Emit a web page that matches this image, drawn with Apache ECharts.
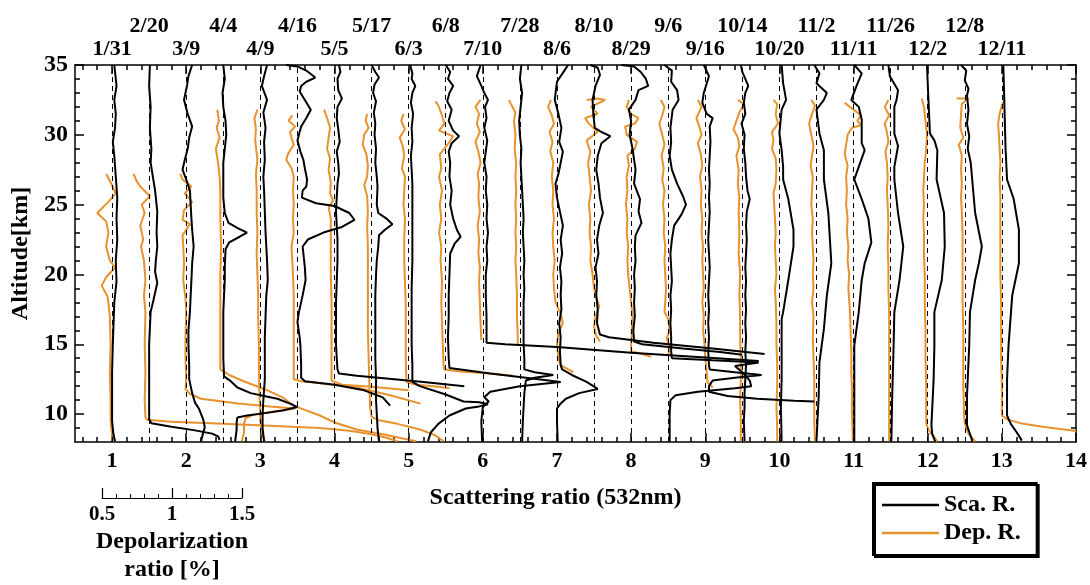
<!DOCTYPE html>
<html>
<head>
<meta charset="utf-8">
<script src="https://cdn.jsdelivr.net/npm/echarts@6/dist/echarts.min.js"></script>
<style>
  html, body { margin: 0; padding: 0; background: #fff; }
  #chart { width: 1090px; height: 585px; }
</style>
</head>
<body>
<div id="chart"></div>
<script>
// observation dates, one profile per date
const dates = ['1/31', '2/20', '3/9', '4/4', '4/9', '4/16', '5/5', '5/17', '6/3', '6/8', '7/10', '7/28', '8/6',
               '8/10', '8/29', '9/6', '9/16', '10/14', '10/20', '11/2', '11/11', '11/26', '12/2', '12/8', '12/11'];
// each profile is shifted by 0.5 on the scattering ratio axis
const baselines = [1, 1.5, 2, 2.5, 3, 3.5, 4, 4.5, 5, 5.5, 6, 6.5, 7, 7.5, 8, 8.5, 9, 9.5, 10, 10.5, 11, 11.5, 12, 12.5, 13];
const xTickLabels = [1, 2, 3, 4, 5, 6, 7, 8, 9, 10, 11, 12, 13, 14];
const yTickLabels = [10, 15, 20, 25, 30, 35];
const depTickLabels = [0.5, 1, 1.5];

// scattering ratio profiles: [ratio, altitude km]
const sca_0131 = [[1.03,35],[1.05,34],[1.06,33.5],[1.03,32.5],[1.05,31.5],[1.04,30.5],[1.01,29.5],[1.03,28.5],[1.05,27],[1.07,25.5],[1.06,24],[1.07,22.5],[1.05,21],[1.06,19.5],[1.03,18],[1.02,16.5],[1.01,15],[1.0,13],[1.0,11],[1.0,9.5],[1.02,8.5],[1.04,8.05]];
const sca_0220 = [[1.01,35],[1.0,33.5],[1.02,32],[1.01,30.5],[1.03,29],[1.02,28],[1.05,27],[1.08,26],[1.11,24.5],[1.1,23],[1.11,22],[1.09,21],[1.08,20.2],[1.11,19.4],[1.06,18.2],[1.02,17.3],[1.0,15],[1.0,13],[1.0,11],[1.0,9.6],[1.03,9.35],[1.3,9.1],[1.6,8.85],[1.85,8.6],[1.93,8.4],[1.95,8.15]];
const sca_0309 = [[1.08,35],[1.03,34.2],[1.01,33.5],[0.97,32.5],[1.02,31.5],[1.08,30.6],[1.04,29.8],[1.02,29],[0.98,28.2],[0.95,27.5],[1.0,26.8],[1.05,26],[1.06,25],[1.07,24],[1.08,23.2],[1.1,22],[1.08,20.8],[1.07,19.6],[1.06,18.5],[1.05,17.3],[1.03,16],[1.03,14.9],[1.04,13.5],[1.04,12.5],[1.08,11.5],[1.12,10.8],[1.17,10.4],[1.23,9.6],[1.25,9.05],[1.23,8.7],[1.2,8.05]];
const sca_0404 = [[1.0,35],[1.02,34],[0.99,33],[1.0,32],[1.03,31],[1.04,30],[1.02,29],[1.0,28],[1.0,27],[1.0,25.5],[1.02,24.4],[1.07,23.7],[1.2,23.3],[1.32,23.0],[1.22,22.7],[1.08,22.3],[1.03,21.8],[1.02,20.5],[1.02,19.6],[1.01,18.5],[1.0,17.3],[1.0,15.5],[1.0,14],[1.01,12.7],[1.09,12.4],[1.19,11.9],[1.37,11.5],[1.55,11.3],[1.73,11.1],[1.9,10.75],[2.0,10.5],[1.8,10.25],[1.54,10.05],[1.32,9.9],[1.19,9.76],[1.18,9.4],[1.18,8.9],[1.16,8.05]];
const sca_0409 = [[1.09,35],[1.05,34.2],[1.02,33.5],[1.09,32.5],[1.04,31.6],[1.07,30.5],[1.05,29.5],[1.06,28.2],[1.04,27],[1.05,26],[1.06,24.5],[1.07,23],[1.08,22],[1.09,21],[1.1,19.6],[1.08,18.5],[1.07,17],[1.06,15.5],[1.06,14],[1.06,12.5],[1.04,11],[1.03,10],[1.03,9],[1.05,8.05]];
const sca_0416 = [[0.85,35],[1.0,34.9],[1.12,34.6],[1.24,34.1],[1.12,33.8],[1.05,33.5],[1.03,33.1],[1.1,32.5],[1.18,31.8],[1.12,31.2],[1.05,30.6],[1.02,30],[1.0,29.6],[1.04,28.8],[1.08,28.2],[1.1,27.6],[1.13,26.8],[1.12,26.3],[1.07,26],[1.06,25.5],[1.25,25.1],[1.5,24.9],[1.7,24.4],[1.77,23.9],[1.6,23.4],[1.35,23.0],[1.14,22.5],[1.07,22.0],[1.08,21.5],[1.1,20.5],[1.11,19.6],[1.07,18.5],[1.02,17.3],[1.0,16.6],[1.03,15.5],[1.04,14.9],[1.05,13.5],[1.05,12.6],[1.1,12.35],[1.5,12.1],[1.9,11.7],[2.15,11.2],[2.25,10.6]];
const sca_0505 = [[1.06,35],[1.08,34.5],[1.04,34],[1.05,33.2],[1.1,32.6],[1.04,32],[1.03,31.2],[1.05,30.4],[1.07,29.5],[1.03,28.8],[1.05,28],[1.06,27.2],[1.04,26.5],[1.03,25.5],[1.02,24.5],[1.03,23.5],[1.04,22.5],[1.04,21],[1.03,19.5],[1.02,18],[1.02,16.5],[1.02,15],[1.03,14],[1.04,13.2],[1.06,12.9],[1.3,12.75],[1.7,12.55],[2.2,12.3],[2.75,12.0]];
const sca_0517 = [[1.0,35],[1.05,34.5],[1.1,34.1],[1.04,33.6],[1.02,33],[1.06,32.4],[1.03,31.6],[1.05,30.8],[1.04,30],[1.06,29],[1.05,28],[1.07,27],[1.08,26.3],[1.07,25],[1.09,24.4],[1.2,24.0],[1.28,23.6],[1.18,23.2],[1.1,22.8],[1.09,22],[1.07,21],[1.06,20],[1.05,18.5],[1.05,17],[1.05,15.5],[1.05,14],[1.06,12.5],[1.06,11],[1.07,10],[1.08,9],[1.1,8.05]];
const sca_0603 = [[1.02,35],[1.05,34.4],[1.04,34],[1.09,33.5],[1.05,33],[1.03,32.3],[1.06,31.5],[1.04,30.5],[1.05,29.5],[1.03,28.5],[1.04,27.5],[1.05,26.5],[1.05,25],[1.05,23],[1.05,21],[1.04,19],[1.04,17],[1.04,15],[1.05,13.5],[1.05,12.3],[1.15,12.0],[1.5,11.4],[1.74,10.9],[1.95,10.85],[2.07,10.7],[1.95,10.55],[1.77,10.4],[1.55,9.9],[1.4,9.3],[1.3,8.7],[1.26,8.05]];
const sca_0608 = [[1.0,35],[1.06,34.5],[1.03,34],[1.1,33.5],[1.05,33],[1.02,32.4],[1.08,31.8],[1.04,31],[1.1,30.3],[1.18,29.9],[1.08,29.4],[1.04,28.8],[1.06,28],[1.05,27],[1.08,26],[1.06,25],[1.1,24],[1.15,23.2],[1.2,22.7],[1.12,22.2],[1.06,21.5],[1.05,20],[1.04,18.5],[1.04,17],[1.03,15.5],[1.04,14],[1.05,13.3],[1.6,12.9],[2.25,12.5],[2.55,12.3],[2.0,12.0],[1.6,11.6],[1.52,11.2],[1.58,10.9],[1.5,10.5],[1.48,9.5],[1.49,8.05]];
const sca_0710 = [[0.97,35],[0.92,34.2],[0.98,33.5],[1.02,33],[1.07,32.5],[1.03,32],[1.05,31.2],[1.02,30.5],[1.06,29.6],[1.04,28.8],[1.02,28],[1.05,27],[1.04,26],[1.06,25],[1.05,24],[1.07,23],[1.05,22],[1.06,21],[1.04,20],[1.04,18.5],[1.05,17],[1.05,16],[1.05,15.1],[1.3,15.0],[2.0,14.8],[3.0,14.4],[4.0,14.05],[4.72,13.8]];
const sca_0728 = [[1.02,35],[1.0,34],[1.03,33],[1.01,32],[0.99,31],[1.0,30],[1.02,29],[1.01,28],[1.02,27],[1.03,26],[1.04,25],[1.05,24],[1.04,23],[1.05,22],[1.06,21],[1.05,20],[1.06,19],[1.05,18],[1.05,17],[1.05,16],[1.05,15],[1.06,14],[1.06,13.2],[1.2,13.0],[1.45,12.8],[1.2,12.6],[1.08,12.4],[1.06,11.5],[1.05,10.5],[1.04,9.5],[1.03,8.05]];
const sca_0806 = [[1.15,35],[1.1,34.6],[1.0,33.8],[0.97,32.5],[1.02,31.5],[1.06,30.5],[1.03,29.5],[1.08,28.8],[1.05,28],[1.02,27.2],[0.98,26.5],[1.0,25.5],[1.04,24.5],[1.08,23.5],[1.05,22.5],[1.07,21.5],[1.04,20.5],[1.06,19.5],[1.05,18.5],[1.06,17.5],[1.03,16.5],[1.05,15.5],[1.04,14.5],[1.05,13.5],[1.07,13.2],[1.2,12.8],[1.4,12.3],[1.55,11.8],[1.3,11.5],[1.12,11.1],[1.04,10.7],[1.0,10.4],[1.0,9.5],[1.01,8.05]];
const sca_0810 = [[0.95,35],[1.05,34.8],[1.08,34.3],[1.02,33.5],[0.98,32.5],[0.99,31.5],[1.01,30.5],[1.1,30.2],[1.22,29.9],[1.1,29.4],[1.05,28.5],[1.03,27.5],[1.06,26.5],[1.08,25.5],[1.12,24.4],[1.07,23.5],[1.04,22.5],[1.06,21.5],[1.02,20.5],[1.04,19.5],[1.03,18.5],[1.05,17.5],[1.04,16.5],[1.08,15.7],[1.2,15.5],[1.8,15.1],[2.6,14.7],[3.3,14.3]];
const sca_0829 = [[0.87,35],[1.04,34.9],[1.13,34.5],[1.2,34],[1.23,33.5],[1.1,33.2],[1.06,32.5],[0.97,31.8],[1.0,31],[0.98,30],[1.02,29],[1.04,28.2],[1.06,27.5],[1.04,26.5],[1.12,25.4],[1.1,24.5],[1.14,23.7],[1.06,22.8],[1.05,22],[1.06,21],[1.04,20],[1.05,19],[1.04,18],[1.05,17],[1.03,16],[1.04,15.2],[1.15,15.0],[1.7,14.7],[2.2,14.45],[2.5,14.25]];
const sca_0906 = [[0.95,35],[1.05,34.6],[1.04,33.8],[1.12,33.2],[1.14,32.5],[1.06,31.8],[1.03,30.5],[1.04,29.5],[1.02,28.5],[1.05,27.5],[1.12,26.5],[1.2,25.6],[1.24,25],[1.18,24.3],[1.08,23.5],[1.05,22.5],[1.03,21.5],[1.04,20.5],[1.05,19.5],[1.03,18.5],[1.04,17.5],[1.03,16.5],[1.04,15.5],[1.04,14.5],[1.05,14.0],[1.6,13.85],[2.22,13.7],[1.9,13.45],[2.0,13.0],[2.1,12.4],[2.12,12.0],[1.9,11.85],[1.4,11.6],[1.1,11.35],[1.03,11.0],[1.02,10],[1.02,9],[1.02,8.05]];
const sca_0916 = [[0.98,35],[1.05,34.2],[0.98,33],[0.96,32.3],[1.02,31.5],[1.1,31.2],[1.06,30.6],[1.07,29.5],[1.06,28.5],[1.05,27.5],[1.06,26.5],[1.05,25.5],[1.06,24.5],[1.05,23.5],[1.04,22.5],[1.05,21.5],[1.06,20.5],[1.05,19.5],[1.04,18.5],[1.05,17.5],[1.04,16.5],[1.05,15.5],[1.04,14.5],[1.05,13.5],[1.06,13.2],[1.4,13.0],[1.76,12.8],[1.4,12.6],[1.1,12.4],[1.05,12.0],[1.05,11.6],[1.3,11.3],[1.7,11.1],[2.2,10.95],[2.47,10.9]];
const sca_1014 = [[0.98,35],[1.0,34.5],[1.04,34],[1.08,33.5],[1.04,33],[1.02,32.3],[1.04,31.5],[0.99,30.8],[1.03,30],[1.02,29],[1.04,28],[1.05,27],[1.07,26],[1.1,25.4],[1.06,24.5],[1.05,23.5],[1.06,22.5],[1.05,21.5],[1.04,20.5],[1.05,19.5],[1.04,18.5],[1.05,17.5],[1.04,16.5],[1.05,15.5],[1.04,14.5],[1.05,13.5],[1.04,12.5],[1.03,11.5],[1.03,10.5],[1.02,9.5],[1.03,8.05]];
const sca_1020 = [[1.03,35],[1.05,33.7],[1.09,32.5],[1.03,31.8],[1.0,30.1],[1.03,28.9],[1.05,27.7],[1.05,26.8],[1.12,25.4],[1.19,23.2],[1.19,22],[1.12,19.6],[1.05,17.3],[1.03,16.8],[1.03,14.5],[1.03,12.5],[1.02,10.5],[1.03,8.05]];
const sca_1102 = [[0.97,35],[1.04,34.4],[1.0,33.7],[1.14,33],[1.1,32.5],[1.0,31.8],[1.04,30.1],[1.1,28.9],[1.1,26.8],[1.16,24.4],[1.2,20.8],[1.14,18.5],[1.1,16.1],[1.04,13.7],[1.03,11.3],[1.0,8.05]];
const sca_1111 = [[1.01,35],[1.11,34.4],[1.04,33.5],[0.97,32.5],[1.07,32],[1.11,31.1],[1.11,29.4],[1.15,28.9],[1.07,27.7],[1.01,26.8],[1.11,25.4],[1.2,24],[1.24,22.3],[1.15,20.8],[1.11,19.6],[1.07,17.3],[1.01,14.9],[1.01,11],[1.01,8.05]];
const sca_1126 = [[0.97,35],[0.99,34.2],[1.1,33.2],[1.08,32.5],[1.05,32],[1.05,30.1],[1.1,29.2],[1.05,27.7],[1.05,26.8],[1.1,24.4],[1.17,22],[1.12,19.6],[1.05,17.3],[1.04,14.9],[1.02,11],[1.01,8.05]];
const sca_1202 = [[0.99,35],[1.01,32.5],[1.03,30.1],[1.09,29.6],[1.13,28.9],[1.12,26.8],[1.22,24.4],[1.23,22],[1.19,19.6],[1.09,17.3],[1.09,14.9],[1.08,12.5],[1.05,9.2],[1.06,8.6],[1.1,8.05]];
const sca_1208 = [[0.95,35],[1.02,34.6],[1.0,33.9],[1.05,33.3],[1.03,32.8],[1.05,31.8],[1.03,30.8],[1.06,29.9],[1.04,29],[1.08,28],[1.1,26.8],[1.14,24.4],[1.23,22.0],[1.19,20.8],[1.14,19.6],[1.07,17.3],[1.06,14.9],[1.03,11.3],[1.03,9.2],[1.1,8.1]];
const sca_1211 = [[1.02,35],[1.03,33],[1.04,31],[1.05,29],[1.07,26.8],[1.16,25.4],[1.23,23.2],[1.23,20.8],[1.14,18.5],[1.09,14.9],[1.07,12.5],[1.07,9.9],[1.12,9.3],[1.2,8.7],[1.27,8.1]];

// depolarization ratio profiles, drawn as a shift from the baseline in scattering-ratio units: [shift, altitude km]
const dep_0131 = [[-0.08,27.2],[-0.02,26.6],[0.05,25.8],[-0.05,25.2],[-0.2,24.4],[-0.08,23.8],[-0.05,23],[-0.08,22],[-0.03,21],[0.04,20.5],[-0.08,19.8],[-0.14,19.2],[-0.06,18.4],[-0.03,17],[-0.02,15],[-0.03,13],[-0.02,11],[-0.02,9.5],[0.01,8.05]];
const dep_0220 = [[-0.21,27.2],[-0.17,26.7],[-0.12,26.3],[0.01,25.6],[-0.1,25],[-0.06,24.4],[-0.12,23.5],[-0.08,22.5],[-0.11,22],[-0.07,21],[-0.05,19.6],[-0.07,18.5],[-0.05,17.3],[-0.06,15],[-0.05,13],[-0.06,11],[-0.05,9.8],[-0.03,9.6],[0.3,9.45],[1.0,9.3],[1.7,9.15],[2.3,9.0],[2.7,8.8],[3.0,8.55],[3.2,8.3],[3.35,8.05]];
const dep_0309 = [[-0.08,27.2],[-0.05,26.8],[0.07,26.3],[-0.02,25.8],[0.08,25.2],[-0.03,24.6],[-0.05,23.9],[0.05,23.6],[-0.05,22.8],[-0.04,22],[-0.03,20.8],[-0.04,19.6],[-0.01,18.3],[0.0,17.3],[-0.01,15.5],[-0.01,14],[0.0,12.5],[-0.01,11.8],[0.05,11.45],[0.2,11.1],[0.7,10.75],[1.13,10.55],[1.47,10.4],[1.2,10.2],[0.9,9.95],[0.8,9.7],[0.78,9.3],[0.78,8.7],[0.75,8.05]];
const dep_0404 = [[-0.08,31.8],[-0.06,31],[-0.09,30.5],[-0.05,29.8],[-0.1,29],[-0.07,28],[-0.05,27],[-0.04,26],[-0.04,24],[-0.03,22],[-0.04,20],[-0.04,18],[-0.04,16],[-0.04,14],[-0.04,13.2],[0.08,12.8],[0.3,12.3],[0.55,11.8],[0.8,11.2],[0.95,10.6],[1.1,10.3],[1.3,9.9],[1.5,9.4],[1.8,8.9],[2.2,8.5],[2.6,8.05]];
const dep_0409 = [[-0.04,31.8],[-0.08,31.2],[-0.06,30.4],[-0.07,29.6],[-0.04,28.2],[-0.06,27.2],[-0.05,26],[-0.05,24.5],[-0.04,23],[-0.05,21.5],[-0.04,20],[-0.03,18.5],[-0.03,17],[-0.02,15],[-0.02,13],[-0.01,11],[0.0,9.5],[0.02,8.7],[0.06,8.05]];
const dep_0416 = [[-0.07,31.4],[-0.12,31.0],[-0.03,30.6],[-0.1,30.2],[-0.08,29.8],[-0.05,29.3],[-0.13,28.6],[-0.15,28.2],[-0.08,27.6],[-0.05,27],[-0.06,26],[-0.05,25],[-0.06,24],[-0.05,23],[-0.08,22],[-0.07,21],[-0.06,20],[-0.05,18.5],[-0.05,17],[-0.05,15.5],[-0.05,14],[-0.05,12.5],[0.05,12.35],[0.4,12.15],[0.8,11.9],[1.25,11.35],[1.66,10.75]];
const dep_0505 = [[-0.14,31.8],[-0.1,31.2],[-0.06,30.5],[-0.08,29.8],[-0.1,29],[-0.06,28.3],[-0.08,27.5],[-0.05,26.6],[-0.06,25.8],[-0.02,25.3],[-0.08,24.8],[-0.05,24],[-0.05,22],[-0.05,20],[-0.04,18],[-0.04,16],[-0.04,14],[-0.04,12.4],[0.1,12.1],[0.5,11.95],[1.0,11.7]];
const dep_0517 = [[-0.06,31.5],[-0.08,31],[-0.04,30.5],[-0.1,30],[-0.12,29.3],[-0.07,28.6],[-0.05,27.8],[-0.06,27],[-0.1,26.4],[-0.06,25.6],[-0.05,24.5],[-0.06,23.5],[-0.05,22],[-0.05,20],[-0.05,18],[-0.05,16],[-0.04,14],[-0.03,12],[-0.02,10.5],[0.0,9.8],[0.1,9.55],[0.35,9.3],[0.65,8.9],[0.85,8.5],[0.97,8.05]];
const dep_0603 = [[-0.07,31.5],[-0.1,31],[-0.05,30.4],[-0.12,29.8],[-0.08,29.2],[-0.06,28.5],[-0.09,27.6],[-0.05,27],[-0.06,26],[-0.07,25],[-0.05,24],[-0.06,22.5],[-0.06,21],[-0.05,19.5],[-0.04,18],[-0.04,16],[-0.04,14],[-0.03,12.3],[0.1,12.1],[0.4,11.95],[0.55,11.85]];
const dep_0608 = [[-0.14,32.4],[-0.1,32.1],[-0.05,31.4],[-0.02,30.8],[-0.09,30.3],[0.1,29.9],[0.04,29.4],[-0.08,28.6],[-0.06,27.6],[-0.09,27],[-0.05,26],[-0.08,25],[-0.06,24],[-0.09,23],[-0.06,22],[-0.07,21],[-0.05,19.5],[-0.06,18],[-0.05,16.5],[-0.04,15],[-0.03,13.5],[-0.02,13.2],[0.2,13.05],[0.6,12.9],[0.9,12.75]];
const dep_0710 = [[-0.03,32.5],[-0.1,32],[-0.05,31.5],[-0.08,30.8],[-0.04,30.2],[-0.1,29.5],[-0.06,28.8],[-0.03,28],[-0.07,27.2],[-0.05,26.5],[-0.06,25.5],[-0.04,24.5],[-0.07,23.5],[-0.05,22.5],[-0.06,21.5],[-0.04,20.5],[-0.05,19.5],[-0.04,18],[-0.03,16.5],[-0.02,15.3]];
const dep_0728 = [[-0.15,32.5],[-0.12,32.2],[-0.06,31.6],[-0.08,31],[-0.06,30],[-0.07,29],[-0.05,28],[-0.06,27],[-0.05,26],[-0.06,25],[-0.05,24],[-0.06,23],[-0.05,22],[-0.06,21],[-0.05,20],[-0.04,18.5],[-0.04,17],[-0.03,15.8],[-0.03,15.0]];
const dep_0806 = [[-0.08,32.5],[-0.12,32],[-0.07,31.4],[-0.04,30.8],[-0.1,30.2],[-0.06,29.5],[-0.09,28.8],[-0.05,28],[-0.07,27],[-0.05,26],[-0.06,25],[-0.04,24],[-0.06,23],[-0.05,22],[-0.03,21],[-0.05,20],[-0.04,19],[-0.02,18],[0.05,17.2],[0.08,16.5],[0.02,15.8],[0.0,15],[0.02,14],[0.05,13.5],[0.15,13.2],[0.22,13.0]];
const dep_0810 = [[-0.1,32.5],[0.05,32.6],[0.15,32.5],[-0.04,32],[0.05,31.5],[-0.12,31.2],[-0.07,30.8],[0.05,30.2],[-0.1,29.6],[-0.05,28.8],[-0.08,28],[-0.06,27],[-0.04,26],[-0.07,25],[-0.05,24],[-0.06,23],[-0.04,22],[-0.05,21],[-0.02,20],[0.0,19],[0.04,18.2],[0.07,17.7],[0.02,17],[0.0,16.3],[0.03,15.6],[0.08,15.2]];
const dep_0829 = [[-0.03,32.5],[-0.06,32],[0.0,31.5],[0.1,31.2],[0.05,30.8],[-0.08,30.6],[-0.06,30],[0.08,29.5],[0.05,29],[-0.05,28.5],[-0.03,27.8],[-0.06,27],[-0.05,26],[-0.07,25],[-0.05,24],[-0.06,23],[-0.04,22],[-0.05,21],[-0.04,20],[-0.02,19],[0.0,18],[0.02,17],[0.01,16],[0.0,15],[0.0,14.5],[0.15,14.3],[0.27,14.1]];
const dep_0906 = [[-0.1,32.5],[-0.05,32],[-0.08,31.4],[-0.12,30.8],[-0.08,30],[-0.05,29.3],[-0.09,28.5],[-0.06,27.6],[-0.08,26.8],[-0.05,26],[-0.07,25],[-0.05,24],[-0.06,23],[-0.04,22],[-0.05,21],[-0.04,20],[-0.03,19],[-0.04,18],[-0.05,17.3],[0.0,16.8],[0.02,16],[-0.02,15.4],[0.02,14.8],[0.0,14.2]];
const dep_0916 = [[-0.1,32.5],[-0.05,32],[-0.12,31.2],[-0.08,30.6],[-0.05,30],[-0.1,29.4],[-0.06,28.6],[-0.04,27.8],[-0.07,27],[-0.05,26],[-0.06,25],[-0.04,24],[-0.05,23],[-0.03,22],[-0.04,21],[-0.03,20],[-0.02,19],[-0.04,18],[-0.02,17],[-0.03,16],[-0.01,15],[0.0,14],[0.02,13],[0.03,12.3],[0.1,11.9]];
const dep_1014 = [[-0.06,32.5],[0.02,32.2],[-0.04,31.6],[-0.08,31],[-0.12,30.4],[-0.06,29.8],[-0.04,29.2],[-0.08,28.5],[-0.05,27.5],[-0.06,26.5],[-0.04,25.5],[-0.05,24.5],[-0.04,23],[-0.05,21.5],[-0.03,20],[-0.04,18.5],[-0.03,17],[-0.03,15.5],[-0.02,14],[-0.02,12.5],[-0.03,11],[-0.02,9.5],[-0.02,8.05]];
const dep_1020 = [[-0.08,32.5],[-0.03,32.2],[-0.05,31.5],[-0.02,30.8],[-0.1,30.2],[-0.08,29.6],[-0.1,29],[-0.05,28.3],[-0.04,27.5],[-0.05,26.5],[-0.08,25.8],[-0.07,25],[-0.06,24],[-0.05,23],[-0.06,22],[-0.05,21],[-0.04,20],[-0.06,19],[-0.05,18],[-0.04,16.5],[-0.04,15],[-0.03,13.5],[-0.03,12],[-0.04,10.5],[-0.03,9],[-0.03,8.05]];
const dep_1102 = [[-0.07,32.5],[-0.02,32.1],[-0.06,31.5],[-0.1,30.8],[-0.07,30],[-0.04,29.2],[-0.06,28.5],[-0.08,27.8],[-0.05,27],[-0.06,26],[-0.07,25],[-0.05,24],[-0.06,23],[-0.05,22],[-0.04,21],[-0.05,20],[-0.04,19],[-0.06,18],[-0.04,17],[-0.05,15.5],[-0.04,14],[-0.03,12.5],[-0.03,11],[-0.03,9.5],[-0.02,8.05]];
const dep_1111 = [[-0.12,32.3],[-0.05,32.0],[0.1,31.4],[0.05,31.0],[0.1,30.7],[-0.02,30.5],[-0.08,30.0],[-0.1,29.3],[-0.12,28.6],[-0.08,27.8],[-0.1,27],[-0.09,26],[-0.1,25],[-0.08,24],[-0.09,23],[-0.07,22],[-0.08,21],[-0.06,20],[-0.07,19],[-0.05,17.5],[-0.04,16],[-0.03,14.5],[-0.03,13],[-0.02,11.5],[-0.02,10],[-0.01,8.05]];
const dep_1126 = [[-0.03,32.5],[-0.08,32.0],[-0.02,31.4],[-0.08,30.8],[-0.05,30.2],[-0.03,29.5],[-0.07,28.8],[-0.05,28],[-0.04,27],[-0.05,26],[-0.04,25],[-0.03,23.5],[-0.04,22],[-0.03,20.5],[-0.03,19],[-0.02,17],[-0.02,15],[-0.02,13],[-0.02,11],[-0.02,9],[-0.02,8.05]];
const dep_1202 = [[-0.08,32.6],[-0.05,32],[-0.03,31],[-0.01,30],[-0.02,29],[-0.04,28],[-0.05,27],[-0.06,26],[-0.05,25],[-0.06,24],[-0.05,23],[-0.05,21.5],[-0.04,20],[-0.04,18],[-0.03,16],[-0.03,14],[-0.02,12],[-0.02,10.5],[-0.02,9.3],[0.02,8.8],[0.08,8.4],[0.13,8.05]];
const dep_1208 = [[-0.11,32.6],[0.05,32.6],[-0.04,32.2],[-0.05,31.5],[-0.06,30.5],[-0.02,29.8],[-0.08,29.3],[-0.04,28.5],[-0.05,27.5],[-0.04,26.5],[-0.05,25.5],[-0.04,24.5],[-0.03,23],[-0.03,21.5],[-0.03,20],[-0.03,18],[-0.02,16],[-0.02,14],[-0.02,12],[-0.01,10],[0.0,9.3],[0.05,8.6],[0.14,8.05]];
const dep_1211 = [[0.04,32.5],[0.0,32.1],[-0.03,31.5],[-0.05,30.8],[-0.04,30],[-0.03,29],[-0.02,28],[-0.03,27],[-0.02,25.5],[-0.02,24],[-0.02,22],[-0.02,20],[-0.01,18],[-0.01,16],[-0.01,14],[0.0,12],[0.0,9.9],[0.08,9.6],[0.25,9.35],[0.55,9.1],[1.0,8.78]];

const scaProfiles = [sca_0131, sca_0220, sca_0309, sca_0404, sca_0409, sca_0416, sca_0505, sca_0517, sca_0603, sca_0608,
  sca_0710, sca_0728, sca_0806, sca_0810, sca_0829, sca_0906, sca_0916, sca_1014, sca_1020, sca_1102, sca_1111,
  sca_1126, sca_1202, sca_1208, sca_1211];
const depProfiles = [dep_0131, dep_0220, dep_0309, dep_0404, dep_0409, dep_0416, dep_0505, dep_0517, dep_0603, dep_0608,
  dep_0710, dep_0728, dep_0806, dep_0810, dep_0829, dep_0906, dep_0916, dep_1014, dep_1020, dep_1102, dep_1111,
  dep_1126, dep_1202, dep_1208, dep_1211];

const FONT = 'Liberation Serif';
const ORANGE = '#E8922E';

// minor tick positions
const xMinor = [];
for (let i = 3; i <= 69; i++) {
  const v = Math.round(i * 2) / 10;
  if (v % 1 !== 0) xMinor.push(v);
}
const yMinor = [];
for (let v = 9; v <= 34; v++) if (v % 5 !== 0) yMinor.push(v);
const depMinor = [];
for (let i = 6; i <= 14; i++) if (i !== 10) depMinor.push(i / 10);

const chart = echarts.init(document.getElementById('chart'));

const txt = (size) => ({ fontFamily: FONT, fontWeight: 'bold', fontSize: size, color: '#000' });
const blackLine = { color: '#000', width: 1.5 };

function frameAxis(extra) {
  return Object.assign({
    type: 'value', min: 0.5, max: 14, gridIndex: 0,
    axisLine: { show: false }, splitLine: { show: false },
    axisLabel: { show: false }
  }, extra);
}

const xAxes = [
  frameAxis({
    position: 'bottom',
    axisLine: { show: true, lineStyle: blackLine },
    axisTick: { inside: true, length: 9, customValues: xTickLabels, lineStyle: blackLine },
    axisLabel: Object.assign({ customValues: xTickLabels, margin: 8 }, txt(22)),
    name: 'Scattering ratio (532nm)', nameLocation: 'middle', nameGap: 44,
    nameTextStyle: Object.assign({ padding: [0, 40, 0, 0] }, txt(24))
  }),
  frameAxis({ position: 'bottom', axisTick: { inside: true, length: 5, customValues: xMinor, lineStyle: blackLine } }),
  frameAxis({
    position: 'top',
    axisLine: { show: true, lineStyle: blackLine },
    axisTick: { inside: true, length: 9, customValues: xTickLabels, lineStyle: blackLine }
  }),
  frameAxis({ position: 'top', axisTick: { inside: true, length: 5, customValues: xMinor, lineStyle: blackLine } }),
  // date labels, lower row
  frameAxis({
    position: 'top', axisTick: { show: false },
    axisLabel: Object.assign({
      show: true, margin: 5,
      customValues: baselines.filter((b, i) => i % 2 === 0),
      formatter: (v) => dates[Math.round((v - 1) / 0.5)]
    }, txt(22))
  }),
  // date labels, upper row
  frameAxis({
    position: 'top', axisTick: { show: false },
    axisLabel: Object.assign({
      show: true, margin: 28,
      customValues: baselines.filter((b, i) => i % 2 === 1),
      formatter: (v) => dates[Math.round((v - 1) / 0.5)]
    }, txt(22))
  }),
  // depolarization scale bar
  {
    type: 'value', gridIndex: 1, min: 0.5, max: 1.5, position: 'bottom',
    axisLine: { show: true, lineStyle: { color: '#000', width: 1.2 } },
    axisTick: { inside: true, length: 10, customValues: depTickLabels, lineStyle: { color: '#000', width: 1.2 } },
    axisLabel: Object.assign({ customValues: depTickLabels, margin: 6 }, txt(21)),
    splitLine: { show: false },
    name: 'Depolarization\nratio [%]', nameLocation: 'middle', nameGap: 30,
    nameTextStyle: Object.assign({ lineHeight: 28 }, txt(24))
  },
  {
    type: 'value', gridIndex: 1, min: 0.5, max: 1.5, position: 'bottom',
    axisLine: { show: false }, splitLine: { show: false }, axisLabel: { show: false },
    axisTick: { inside: true, length: 4, customValues: depMinor, lineStyle: { color: '#000', width: 1 } }
  }
];

function yFrame(extra) {
  return Object.assign({
    type: 'value', min: 8, max: 35, gridIndex: 0,
    axisLine: { show: false }, splitLine: { show: false }, axisLabel: { show: false }
  }, extra);
}

const yAxes = [
  yFrame({
    position: 'left',
    axisLine: { show: true, lineStyle: blackLine },
    axisTick: { inside: true, length: 9, customValues: yTickLabels, lineStyle: blackLine },
    axisLabel: Object.assign({ customValues: yTickLabels, margin: 7 }, txt(24)),
    name: 'Altitude[km]', nameLocation: 'middle', nameRotate: 90, nameGap: 40,
    nameTextStyle: txt(24)
  }),
  yFrame({ position: 'left', axisTick: { inside: true, length: 5, customValues: yMinor, lineStyle: blackLine } }),
  yFrame({
    position: 'right',
    axisLine: { show: true, lineStyle: blackLine },
    axisTick: { inside: true, length: 9, customValues: yTickLabels, lineStyle: blackLine }
  }),
  yFrame({ position: 'right', axisTick: { inside: true, length: 5, customValues: yMinor, lineStyle: blackLine } }),
  { type: 'value', gridIndex: 1, min: 0, max: 1, show: false }
];

const series = [];
baselines.forEach((b, i) => {
  series.push({
    name: 'Dep. R.', type: 'line', xAxisIndex: 0, yAxisIndex: 0,
    symbol: 'none', z: 3,
    lineStyle: { color: ORANGE, width: 2 }, itemStyle: { color: ORANGE },
    data: depProfiles[i].map(([d, a]) => [b + d, a])
  });
  series.push({
    name: 'Sca. R.', type: 'line', xAxisIndex: 0, yAxisIndex: 0,
    symbol: 'none', z: 4,
    lineStyle: { color: '#000', width: 2 }, itemStyle: { color: '#000' },
    data: scaProfiles[i].map(([s, a]) => [b + s - 1, a])
  });
});

// dashed baseline of every profile
series[0].markLine = {
  silent: true, symbol: 'none', label: { show: false }, animation: false,
  lineStyle: { color: '#000', type: [5, 4], width: 1 },
  data: baselines.map((b) => ({ xAxis: b }))
};

chart.setOption({
  backgroundColor: '#fff',
  animation: false,
  grid: [
    { left: 75, right: 14, top: 65, bottom: 143 },
    { left: 102, width: 140, top: 470, height: 28 }
  ],
  legend: {
    data: [
      { name: 'Sca. R.', icon: 'rect', itemStyle: { color: '#000' } },
      { name: 'Dep. R.', icon: 'rect', itemStyle: { color: ORANGE } }
    ],
    orient: 'vertical', left: 873, top: 483,
    itemWidth: 57, itemHeight: 2.5, itemGap: 4,
    padding: [10, 16, 10, 9],
    textStyle: txt(24),
    backgroundColor: '#fff', borderColor: '#000', borderWidth: 2,
    shadowColor: '#000', shadowOffsetX: 2, shadowOffsetY: 2, shadowBlur: 0
  },
  xAxis: xAxes,
  yAxis: yAxes,
  series: series
});

window.addEventListener('resize', () => chart.resize());
</script>
</body>
</html>
